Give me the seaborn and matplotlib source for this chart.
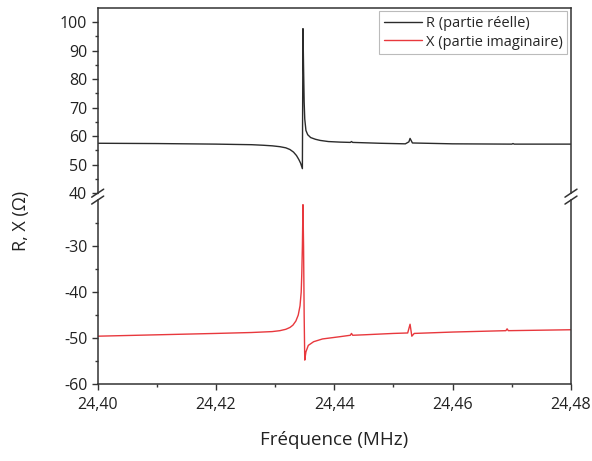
import numpy as np
import pandas as pd
import matplotlib.pyplot as plt
import seaborn as sns

freq_r = [24.400, 24.410, 24.420, 24.4229, 24.426, 24.428, 24.4295, 24.4308, 24.4318,
          24.4325, 24.4331, 24.4336, 24.4340, 24.4343, 24.4346, 24.4347, 24.4348, 24.4349,
          24.4350, 24.4352, 24.4355, 24.4360, 24.4368, 24.4376, 24.4390, 24.4410, 24.4427,
          24.4429, 24.4431, 24.4477, 24.4520, 24.4526, 24.4528, 24.4532, 24.460, 24.470,
          24.4702, 24.4704, 24.480]
r_vals = [57.5, 57.4, 57.2, 57.1, 57.0, 56.8, 56.6, 56.3, 55.9,
          55.3, 54.4, 53.2, 51.8, 50.5, 48.6, 97.7, 84.0, 72.0,
          66.0, 62.0, 60.5, 59.5, 58.9, 58.5, 58.1, 57.9, 57.8,
          58.1, 57.8, 57.5, 57.3, 58.0, 59.2, 57.6, 57.3, 57.2,
          57.4, 57.2, 57.2]

freq_x = [24.400, 24.410, 24.420, 24.426, 24.4295, 24.4308, 24.4318, 24.4325, 24.4330,
          24.4335, 24.4339, 24.4342, 24.4344, 24.4345, 24.4346, 24.4347, 24.4348, 24.4349,
          24.4350, 24.4352, 24.4356, 24.4365, 24.4380, 24.4410, 24.4427, 24.4429, 24.4431,
          24.4450, 24.4500, 24.4524, 24.4528, 24.4531, 24.4535, 24.460, 24.4690, 24.4692,
          24.4694, 24.480]
x_vals = [-49.6, -49.3, -49.0, -48.8, -48.6, -48.4, -48.1, -47.7, -47.2,
          -46.3, -45.0, -43.0, -40.0, -36.0, -30.0, -21.0, -30.0, -45.0,
          -54.8, -53.0, -51.6, -50.8, -50.2, -49.7, -49.4, -49.0, -49.4,
          -49.3, -49.0, -48.9, -47.0, -49.6, -49.0, -48.7, -48.4, -48.0,
          -48.4, -48.2]

x_ticks = [24.40, 24.42, 24.44, 24.46, 24.48]
top_ticks = [40, 50, 60, 70, 80, 90, 100]
bottom_ticks = [-60, -50, -40, -30]

sns.set_style("ticks")
plt.rcParams['font.family'] = ['Open Sans', 'DejaVu Sans']
plt.rcParams['axes.unicode_minus'] = False

df_r = pd.DataFrame({"f": freq_r, "v": r_vals})
df_x = pd.DataFrame({"f": freq_x, "v": x_vals})

fig = plt.figure(figsize=(5.92, 4.61), dpi=100)
L, R = 0.165, 0.9645
ax_top = fig.add_axes([L, 0.581, R - L, 0.983 - 0.581])
ax_bot = fig.add_axes([L, 0.167, R - L, 0.566 - 0.167])

sns.lineplot(data=df_r, x="f", y="v", ax=ax_top, color="#2b2b2b", lw=1.0,
             label="R (partie réelle)")
sns.lineplot(data=df_x, x="f", y="v", ax=ax_bot, color="#e8383d", lw=1.0,
             label="X (partie imaginaire)")

spine_c = "#333333"
for ax in (ax_top, ax_bot):
    ax.set_xlim(24.40, 24.48)
    ax.set_xlabel("")
    ax.set_ylabel("")
    for s in ax.spines.values():
        s.set_color(spine_c)
        s.set_linewidth(1.1)
    ax.tick_params(axis="y", direction="out", length=4, width=1, colors=spine_c,
                   labelsize=11.5, labelcolor="#222222")
    ax.tick_params(axis="y", which="minor", length=2.5, width=1, colors=spine_c)

ax_top.set_ylim(40, 105)
ax_top.set_yticks(top_ticks)
ax_top.set_yticks(np.arange(45, 105, 10), minor=True)
ax_top.spines["bottom"].set_visible(False)
ax_top.tick_params(axis="x", which="both", bottom=False, labelbottom=False)

ax_bot.set_ylim(-60, -20)
ax_bot.set_yticks(bottom_ticks)
ax_bot.set_yticks([-55, -45, -35, -25], minor=True)
ax_bot.spines["top"].set_visible(False)
ax_bot.set_xticks(x_ticks)
ax_bot.set_xticklabels([f"{t:.2f}".replace(".", ",") for t in x_ticks])
ax_bot.set_xticks([24.41, 24.43, 24.45, 24.47], minor=True)
ax_bot.tick_params(axis="x", direction="out", length=4, width=1, colors=spine_c,
                   labelsize=11.5, labelcolor="#222222", pad=5)
ax_bot.tick_params(axis="x", which="minor", length=2.5, width=1, colors=spine_c)

# legend combining both series
h1, l1 = ax_top.get_legend_handles_labels()
h2, l2 = ax_bot.get_legend_handles_labels()
ax_bot.get_legend().remove()
leg = ax_top.legend(h1 + h2, l1 + l2, loc="upper right", fontsize=10.5,
                    frameon=True, fancybox=False, borderaxespad=0.25,
                    handlelength=2.6, handletextpad=0.3, borderpad=0.3,
                    labelspacing=0.25)
leg.get_frame().set_edgecolor("#aaaaaa")
leg.get_frame().set_linewidth(0.8)

# break marks on both vertical spines
W, H = 592, 461
for xp in (L, R):
    for yp in (0.581, 0.566):
        dx, dy = 6 / W, 4 / H
        fig.add_artist(plt.Line2D([xp - dx, xp + dx], [yp - dy, yp + dy],
                                  color=spine_c, lw=1.1))

fig.text(0.035, 0.52, "R, X (Ω)", rotation=90, ha="center", va="center",
         fontsize=13, color="#222222")
fig.text(0.565, 0.045, "Fréquence (MHz)", ha="center", va="center",
         fontsize=13.5, color="#222222")

fig.savefig("out.png", dpi=100, facecolor="white")
